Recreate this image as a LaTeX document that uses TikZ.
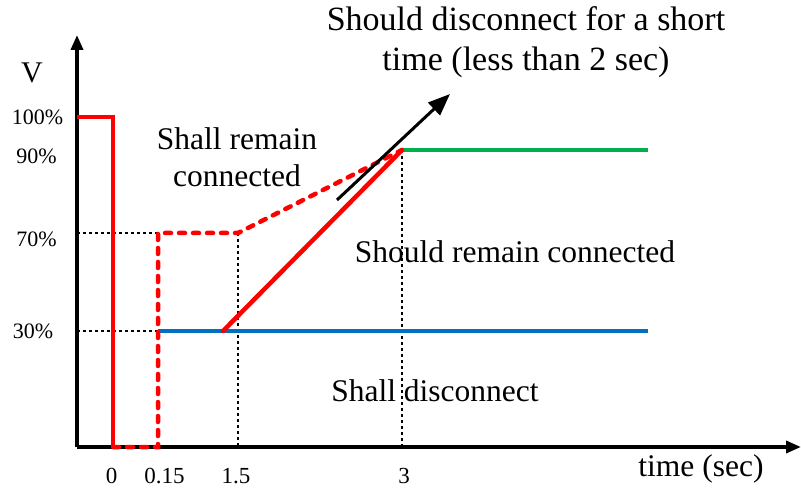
\documentclass[tikz,border=0pt]{standalone}
\usepackage{fontspec}
\setmainfont{Liberation Serif}
\usetikzlibrary{arrows.meta}
\tikzset{
  axisline/.style={line width=3.5pt,-{Triangle[length=15pt,width=12pt]}},
  redsolid/.style={draw=red,line width=4.5pt},
  reddash/.style={draw=red,line width=4.5pt,line cap=round,dash pattern=on 6pt off 8pt},
  guide/.style={draw=black,line width=1.4pt,dash pattern=on 3pt off 3pt},
  ticklbl/.style={font=\fontsize{22}{25}\selectfont},
  xlbl/.style={font=\fontsize{23}{26}\selectfont},
  biglbl/.style={font=\fontsize{31.5}{37}\selectfont,align=center},
}
\begin{document}
\begin{tikzpicture}[x=1pt,y=-1pt]
\useasboundingbox (0,0) rectangle (801,494);
% key points
\coordinate (O) at (77,447);
\coordinate (ytop) at (77,35);
\coordinate (xend) at (801,447);
\coordinate (a100) at (77,117);
\coordinate (b100) at (113,117);
\coordinate (b0) at (113,447);
\coordinate (c0) at (158,447);
\coordinate (c70) at (158,233);
\coordinate (c30) at (158,331);
\coordinate (d70) at (238,233);
\coordinate (d0) at (238,447);
\coordinate (e90) at (402,150);
\coordinate (e0) at (402,447);
\coordinate (f90) at (648,150);
\coordinate (f30) at (648,331);
\coordinate (r30) at (223,331);
\coordinate (y70) at (77,233);
\coordinate (y30) at (77,331);
\coordinate (arS) at (337,200);
\coordinate (arE) at (450,94);
% guides
\draw[guide] (y70) -- (c70);
\draw[guide] (y30) -- (c30);
\draw[guide] (d70) -- (d0);
\draw[guide] (e90) -- (e0);
% axes
\draw[axisline] (O) -- (ytop);
\draw[axisline] (O) -- (xend);
% curves
\draw[draw={rgb,255:red,0;green,112;blue,192},line width=4.5pt] (c30) -- (f30);
\draw[draw={rgb,255:red,0;green,176;blue,80},line width=4.5pt] (e90) -- (f90);
\draw[reddash] (b0) -- (c0) -- (c70) -- (d70) -- (e90);
\draw[redsolid,line join=miter] (a100) -- (b100) -- (b0);
\draw[redsolid,line cap=round] (r30) -- (e90);
\draw[line width=3pt,-{Triangle[length=22pt,width=17pt]}] (arS) -- (arE);
% labels
\node[font=\fontsize{30}{34}\selectfont] (lV) at (32,73) {V};
\node[ticklbl] (l100) at (37.5,117) {100\%};
\node[ticklbl] (l90) at (36.5,156) {90\%};
\node[ticklbl] (l70) at (36.5,239) {70\%};
\node[ticklbl] (l30) at (33,331) {30\%};
\node[xlbl] (t0) at (111.5,476) {0};
\node[xlbl] (t015) at (164.5,476) {0.15};
\node[xlbl] (t15) at (236,476) {1.5};
\node[xlbl] (t3) at (404,476) {3};
\node[biglbl] (ltime) at (701,469) {time (sec)};
\node[font=\fontsize{34}{40}\selectfont,align=center] (lshort) at (526,42) {Should disconnect for a short\\time (less than 2 sec)};
\node[biglbl] (lshall) at (237,157) {Shall remain\\connected};
\node[biglbl] (lshould) at (515,252) {Should remain connected};
\node[biglbl] (ldisc) at (435,391) {Shall disconnect};
\end{tikzpicture}
\end{document}
